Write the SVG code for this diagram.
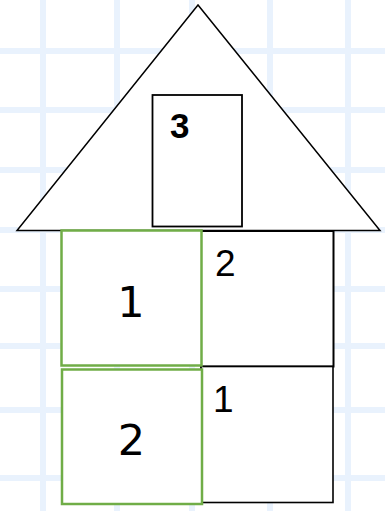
<svg xmlns="http://www.w3.org/2000/svg" width="385" height="511" viewBox="0 0 385 511">
<style>
.grid line{stroke:#e9f2fd;stroke-width:6}
.blk{fill:#fff;stroke:#000}
.grn{fill:#fff;stroke:#70ad47;stroke-width:2.5}
.big{font-family:"DejaVu Sans",sans-serif;font-size:43px;text-anchor:middle;fill:#000}
.sm{font-family:"Liberation Sans",Arial,sans-serif;font-size:37px;fill:#000}
.win{font-family:"Liberation Sans",Arial,sans-serif;font-size:35px;font-weight:bold;fill:#000}
</style>
<rect width="385" height="511" fill="#fff"/>
<g class="grid" id="grid">
<line x1="43" y1="0" x2="43" y2="511"/>
<line x1="117" y1="0" x2="117" y2="511"/>
<line x1="192" y1="0" x2="192" y2="511"/>
<line x1="270" y1="0" x2="270" y2="511"/>
<line x1="348" y1="0" x2="348" y2="511"/>
<line x1="0" y1="51" x2="385" y2="51"/>
<line x1="0" y1="110" x2="385" y2="110"/>
<line x1="0" y1="170" x2="385" y2="170"/>
<line x1="0" y1="230" x2="385" y2="230"/>
<line x1="0" y1="289" x2="385" y2="289"/>
<line x1="0" y1="346" x2="385" y2="346"/>
<line x1="0" y1="410" x2="385" y2="410"/>
<line x1="0" y1="478" x2="385" y2="478"/>
</g>
<g id="roof">
<polygon class="blk" stroke-width="1.5" points="198,5 17,230.5 380,230.5"/>
</g>
<g id="window">
<rect class="blk" stroke-width="1.8" x="152.5" y="95" width="89.5" height="131.5"/>
<text class="win" x="170" y="138">3</text>
</g>
<g id="right-top">
<rect class="blk" stroke-width="2" x="201" y="231" width="132.5" height="135.5"/>
<text class="sm" x="215" y="275.5">2</text>
</g>
<g id="right-bottom">
<rect class="blk" stroke-width="1.6" x="201" y="366.5" width="132" height="136"/>
<text class="sm" x="213" y="412">1</text>
</g>
<g id="box1">
<rect class="grn" x="61.5" y="230.5" width="140" height="135"/>
<text class="big" x="131" y="316.5">1</text>
</g>
<g id="box2">
<rect class="grn" x="62" y="369.5" width="140" height="134.5"/>
<text class="big" x="131.5" y="454.5">2</text>
</g>
</svg>
